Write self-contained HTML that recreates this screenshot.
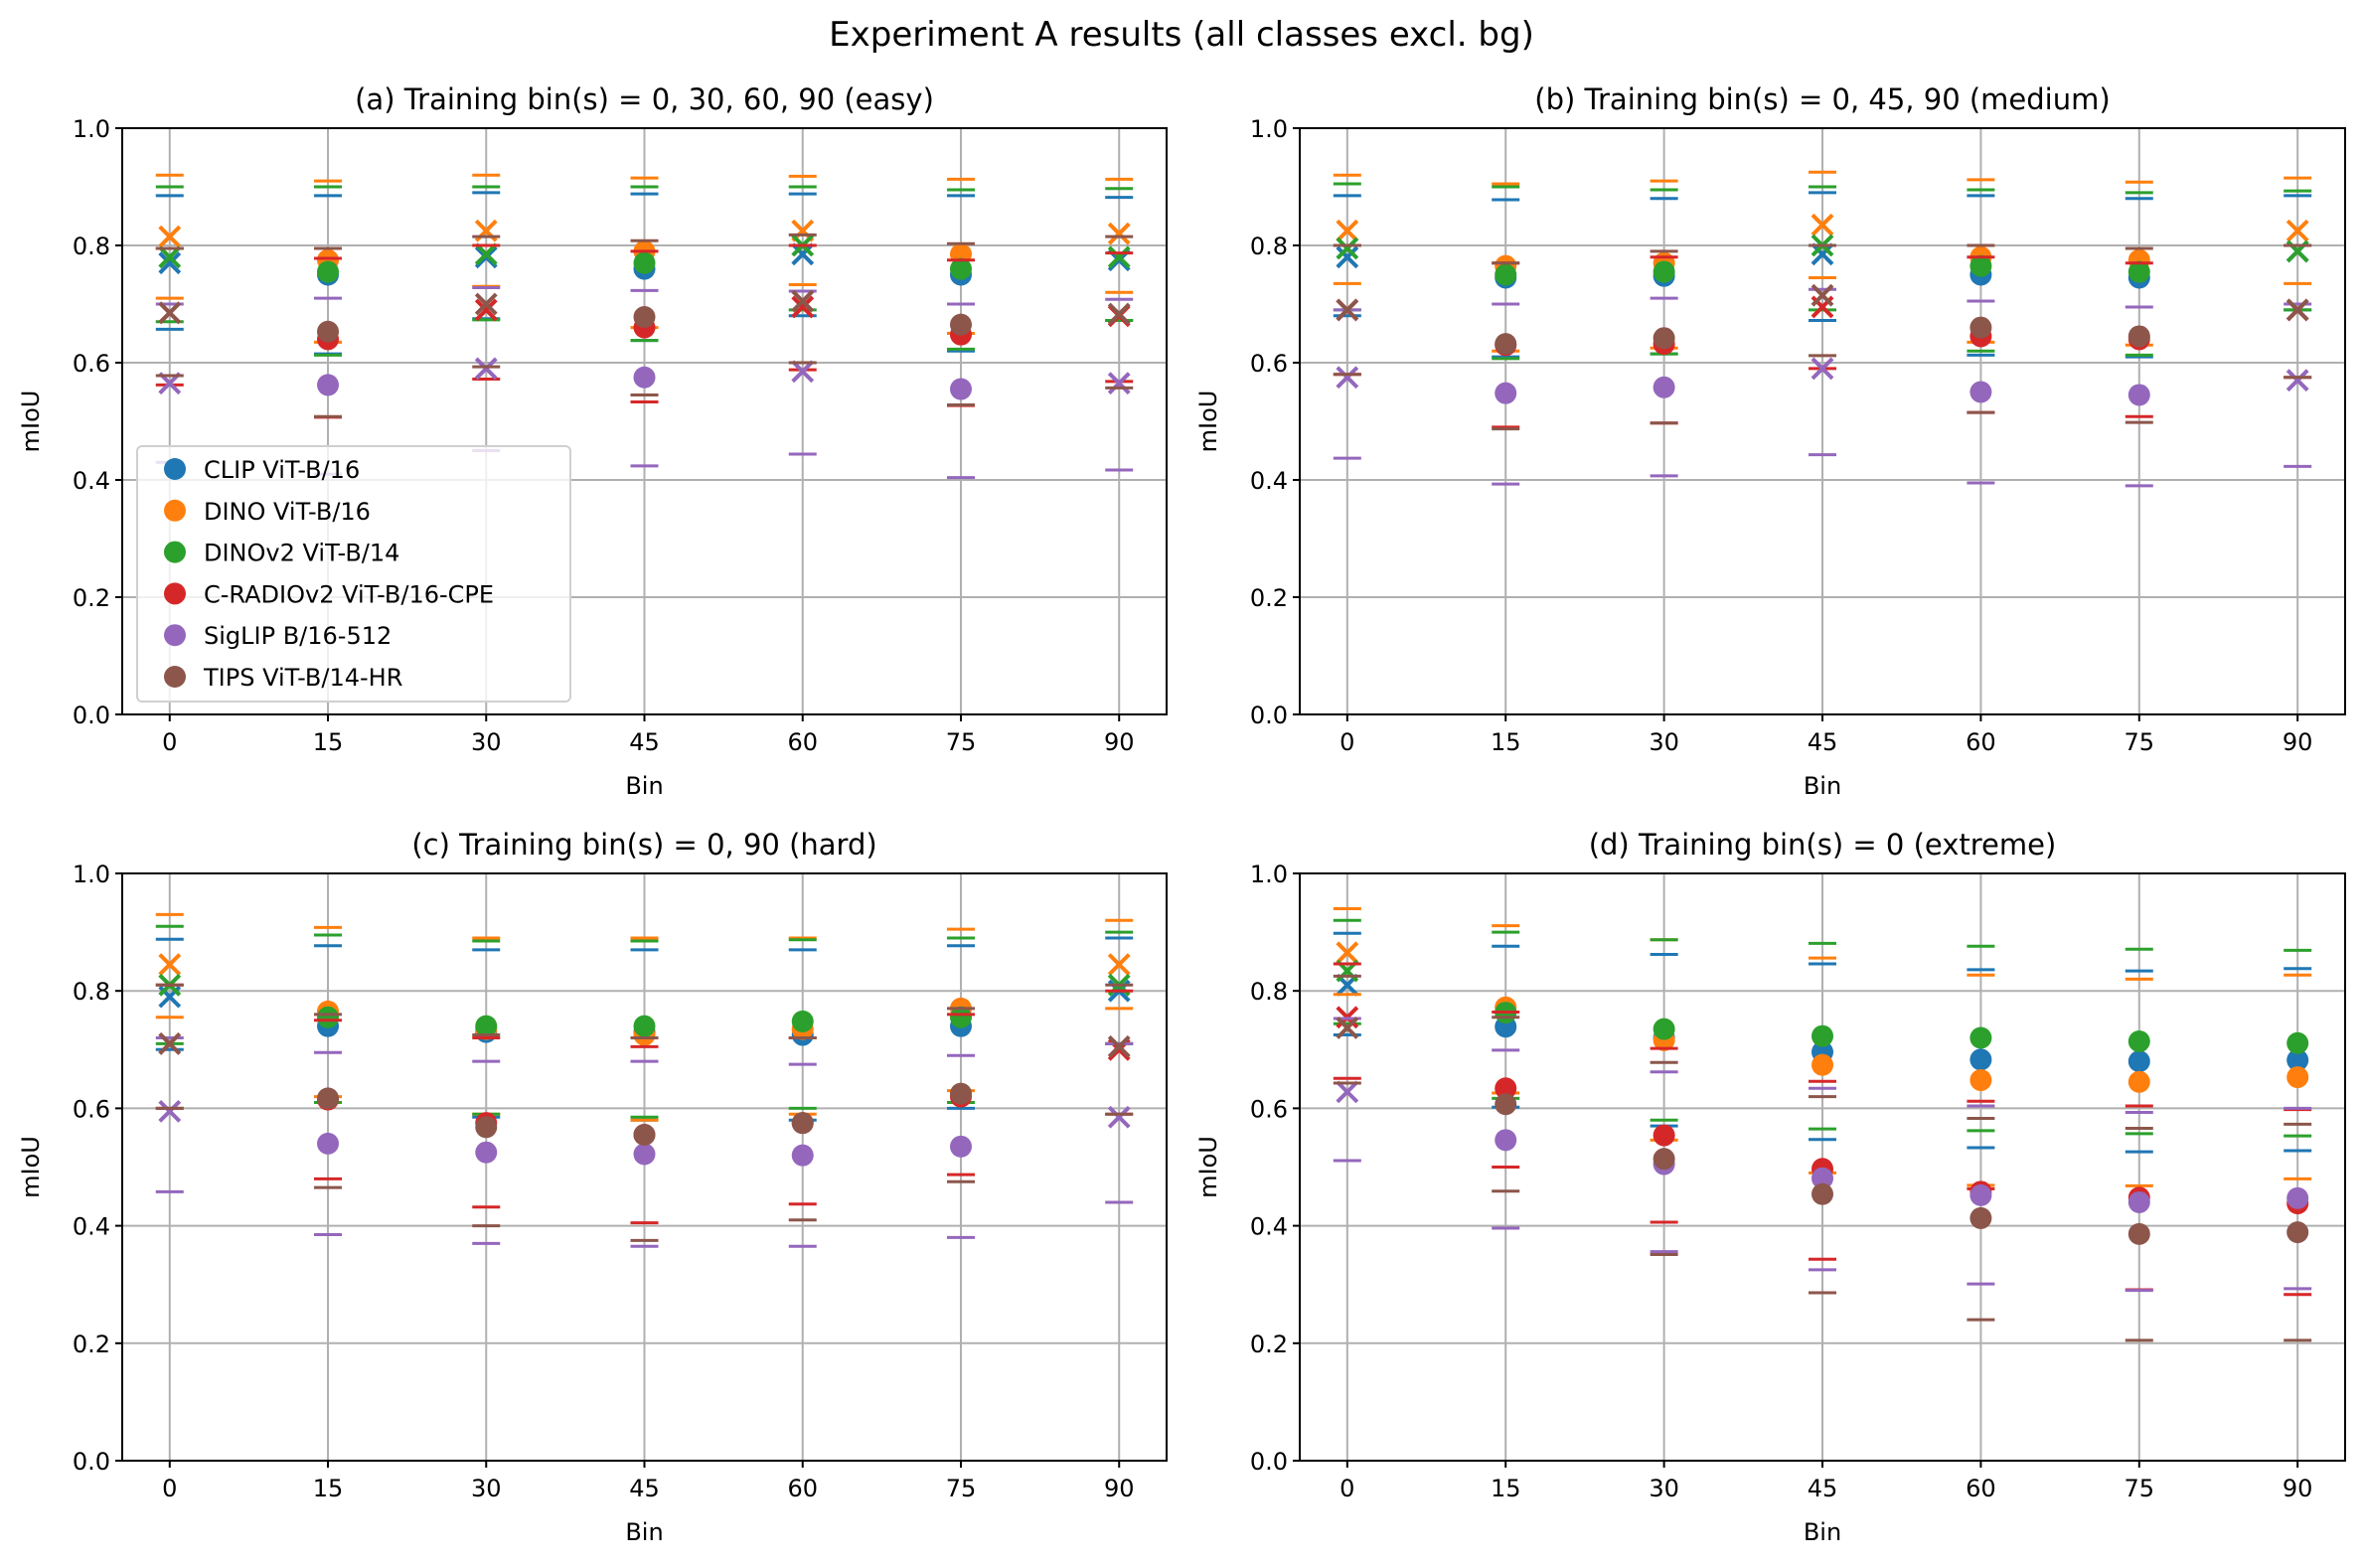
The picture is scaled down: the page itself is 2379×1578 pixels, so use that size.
<!DOCTYPE html>
<html><head><meta charset="utf-8"><style>
body{margin:0;background:#fff}
svg{display:block;font-family:"DejaVu Sans","Liberation Sans",sans-serif}
</style></head><body>
<svg id="fig" width="2379" height="1578" viewBox="0 0 2379 1578" xmlns="http://www.w3.org/2000/svg">
<rect width="2379" height="1578" fill="#fff"/>
<text x="1189" y="46" font-size="34" text-anchor="middle">Experiment A results (all classes excl. bg)</text>
</svg>
<script>
const bins = [0,15,30,45,60,75,90];
const models = ["CLIP ViT-B/16","DINO ViT-B/16","DINOv2 ViT-B/14","C-RADIOv2 ViT-B/16-CPE","SigLIP B/16-512","TIPS ViT-B/14-HR"];
const yTicks = [0,0.2,0.4,0.6,0.8,1.0];
const yTickLabels = ["0.0","0.2","0.4","0.6","0.8","1.0"];
const titles = ["(a) Training bin(s) = 0, 30, 60, 90 (easy)","(b) Training bin(s) = 0, 45, 90 (medium)","(c) Training bin(s) = 0, 90 (hard)","(d) Training bin(s) = 0 (extreme)"];
const trainA=[0,30,60,90], trainB=[0,45,90], trainC=[0,90], trainD=[0];

const meanA=[[.77,.75,.78,.76,.785,.75,.775],[.815,.775,.825,.79,.825,.785,.82],[.78,.755,.785,.77,.80,.76,.78],[.685,.64,.69,.66,.695,.648,.68],[.565,.562,.59,.575,.585,.555,.565],[.685,.653,.70,.678,.705,.665,.683]];
const loA=[[.657,.615,.675,.638,.68,.62,.672],[.71,.635,.73,.66,.733,.65,.72],[.67,.613,.673,.638,.69,.623,.672],[.562,.507,.572,.533,.588,.527,.568],[.43,.41,.45,.424,.444,.404,.417],[.578,.508,.593,.545,.60,.528,.557]];
const hiA=[[.885,.885,.89,.888,.888,.885,.882],[.92,.91,.92,.915,.918,.913,.913],[.90,.90,.90,.90,.90,.895,.897],[.795,.778,.80,.79,.80,.775,.787],[.70,.71,.728,.723,.722,.70,.708],[.795,.795,.815,.808,.818,.803,.815]];

const meanB=[[.78,.745,.748,.785,.75,.745,.79],[.825,.765,.77,.835,.78,.775,.825],[.795,.75,.755,.80,.765,.755,.79],[.69,.63,.632,.695,.645,.64,.69],[.575,.548,.558,.59,.55,.545,.57],[.69,.632,.642,.715,.66,.645,.69]];
const loB=[[.68,.61,.615,.672,.613,.61,.69],[.735,.62,.625,.745,.635,.63,.735],[.69,.607,.615,.69,.62,.613,.69],[.58,.49,.497,.59,.515,.508,.575],[.437,.393,.407,.443,.395,.39,.423],[.58,.487,.497,.612,.515,.498,.575]];
const hiB=[[.885,.878,.88,.89,.885,.88,.885],[.92,.905,.91,.925,.912,.908,.915],[.905,.90,.895,.90,.895,.89,.893],[.80,.77,.78,.80,.78,.77,.80],[.69,.70,.71,.725,.705,.695,.70],[.80,.77,.79,.80,.80,.795,.80]];

const meanC=[[.79,.74,.73,.73,.725,.74,.80],[.845,.765,.735,.725,.735,.77,.845],[.81,.755,.74,.74,.748,.755,.81],[.71,.615,.575,.555,.575,.62,.70],[.595,.54,.525,.522,.52,.535,.585],[.71,.617,.568,.555,.575,.625,.705]];
const loC=[[.70,.61,.585,.58,.58,.60,.71],[.755,.62,.59,.58,.59,.63,.77],[.71,.61,.59,.585,.60,.61,.71],[.60,.48,.432,.405,.437,.487,.59],[.458,.385,.37,.365,.365,.38,.44],[.60,.465,.40,.375,.41,.475,.59]];
const hiC=[[.888,.877,.87,.87,.87,.877,.89],[.93,.908,.89,.89,.89,.905,.92],[.91,.895,.885,.885,.887,.89,.90],[.81,.75,.72,.705,.72,.76,.80],[.72,.695,.68,.68,.675,.69,.71],[.81,.76,.725,.72,.72,.77,.81]];

const meanD=[[.81,.739,.72,.696,.683,.68,.682],[.865,.772,.716,.674,.648,.645,.653],[.834,.763,.735,.723,.72,.714,.711],[.755,.634,.554,.497,.458,.448,.438],[.628,.546,.505,.481,.452,.44,.447],[.737,.607,.514,.454,.413,.386,.389]];
const loD=[[.725,.602,.57,.547,.533,.526,.528],[.794,.626,.546,.49,.469,.468,.48],[.744,.617,.58,.565,.562,.557,.553],[.651,.50,.406,.343,.463,.291,.283],[.511,.396,.356,.325,.301,.29,.293],[.643,.459,.351,.286,.24,.205,.205]];
const hiD=[[.898,.876,.862,.846,.836,.834,.838],[.94,.911,.887,.856,.827,.82,.827],[.92,.90,.887,.881,.876,.871,.869],[.846,.764,.702,.646,.612,.604,.598],[.753,.699,.662,.634,.604,.593,.60],[.825,.755,.678,.62,.583,.566,.573]];

const colors=["#1f77b4","#ff7f0e","#2ca02c","#d62728","#9467bd","#8c564b"];
const NS="http://www.w3.org/2000/svg";
const svg=document.getElementById('fig');
function el(tag,attrs,parent){const e=document.createElementNS(NS,tag);for(const k in attrs)e.setAttribute(k,attrs[k]);(parent||svg).appendChild(e);return e;}

const panels=[
 {L:123,R:1174,T:129,B:719,mean:meanA,lo:loA,hi:hiA,train:trainA,key:'a'},
 {L:1308,R:2360,T:129,B:719,mean:meanB,lo:loB,hi:hiB,train:trainB,key:'b'},
 {L:123,R:1174,T:879,B:1470,mean:meanC,lo:loC,hi:hiC,train:trainC,key:'c'},
 {L:1308,R:2360,T:879,B:1470,mean:meanD,lo:loD,hi:hiD,train:trainD,key:'d'}];

panels.forEach((p,pi)=>{
 const g=el('g',{});
 
 
 const xs=v=>p.L+(v+4.5)/99*(p.R-p.L);
 const ys=v=>p.B-v*(p.B-p.T);
 bins.forEach(b=>{const l=el('line',{x1:xs(b),x2:xs(b),y1:p.T,y2:p.B,stroke:'#b0b0b0','stroke-width':2},g);
  });
 yTicks.forEach(t=>{const l=el('line',{x1:p.L,x2:p.R,y1:ys(t),y2:ys(t),stroke:'#b0b0b0','stroke-width':2},g);
  });
 for(let m=0;m<6;m++){
  const sg=el('g',{},g);
  
  
  bins.forEach((b,i)=>{
   const x=xs(b);
   [p.lo[m][i],p.hi[m][i]].forEach(v=>{const c=el('line',{x1:x-14,x2:x+14,y1:ys(v),y2:ys(v),stroke:colors[m],'stroke-width':3},sg);
    });
   const y=ys(p.mean[m][i]);
   if(p.train.includes(b)){
    const d=10;
    const mk=el('path',{d:`M${x-d},${y-d}L${x+d},${y+d}M${x-d},${y+d}L${x+d},${y-d}`,stroke:colors[m],'stroke-width':4,fill:'none'},sg);
    
   } else {
    const mk=el('circle',{cx:x,cy:y,r:11,fill:colors[m]},sg);
    
   }
  });
 }
 const fr=el('rect',{x:p.L,y:p.T,width:p.R-p.L,height:p.B-p.T,fill:'none',stroke:'#000','stroke-width':2},g);
 
 bins.forEach(b=>{el('line',{x1:xs(b),x2:xs(b),y1:p.B,y2:p.B+7,stroke:'#000','stroke-width':2},g);
  const t=el('text',{x:xs(b),y:p.B+36,'font-size':24,'text-anchor':'middle'},g);t.textContent=b;
  });
 yTicks.forEach((v,i)=>{el('line',{x1:p.L-7,x2:p.L,y1:ys(v),y2:ys(v),stroke:'#000','stroke-width':2},g);
  const t=el('text',{x:p.L-12,y:ys(v)+9,'font-size':24,'text-anchor':'end'},g);t.textContent=yTickLabels[i];
  });
 const xl=el('text',{x:(p.L+p.R)/2,y:p.B+80,'font-size':24,'text-anchor':'middle'},g);xl.textContent='Bin';
 
 const yx=p.L-84,yy=(p.T+p.B)/2;
 const yl=el('text',{x:yx,y:yy,'font-size':24,'text-anchor':'middle',transform:`rotate(-90 ${yx} ${yy})`},g);yl.textContent='mIoU';
 
 const tt=el('text',{x:(p.L+p.R)/2,y:p.T-19,'font-size':29,'text-anchor':'middle'},g);tt.textContent=titles[pi];
 
});

const lg=el('g',{});


el('rect',{x:138,y:449,width:436,height:257,rx:5,fill:'#fff','fill-opacity':0.8,stroke:'#d0d0d0','stroke-width':2},lg);
models.forEach((m,i)=>{
 const y=472+i*41.8;
 const e=el('g',{},lg);
 
 
 el('circle',{cx:176,cy:y,r:11,fill:colors[i]},e);
 const t=el('text',{x:205,y:y+9,'font-size':24},e);t.textContent=m;
});
</script>
</body></html>
